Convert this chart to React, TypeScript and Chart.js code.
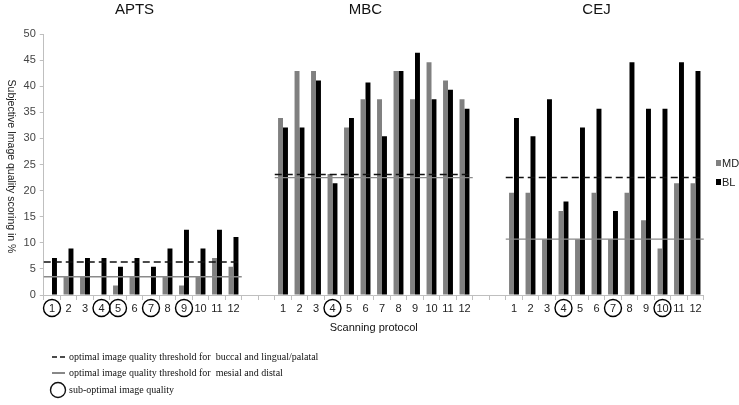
import React, { useEffect, useRef } from 'react';
import { Chart, registerables } from 'chart.js';

Chart.register(...registerables);

const groups = ['APTS', 'MBC', 'CEJ'];
const protocols = ['1', '2', '3', '4', '5', '6', '7', '8', '9', '10', '11', '12'];
const gapSlots = 2;

const aptsMD = [0, 3.6, 3.6, 0, 1.8, 3.6, 0, 3.6, 1.8, 3.6, 7.1, 5.4];
const aptsBL = [7.1, 8.9, 7.1, 7.1, 5.4, 7.1, 5.4, 8.9, 12.5, 8.9, 12.5, 11.1];
const mbcMD = [33.9, 42.9, 42.9, 23.2, 32.1, 37.5, 37.5, 42.9, 37.5, 44.6, 41.1, 37.5];
const mbcBL = [32.1, 32.1, 41.1, 21.4, 33.9, 40.7, 30.4, 42.9, 46.4, 37.5, 39.3, 35.7];
const cejMD = [19.6, 19.6, 10.7, 16.1, 10.7, 19.6, 10.7, 19.6, 14.3, 8.9, 21.4, 21.4];
const cejBL = [33.9, 30.4, 37.5, 17.9, 32.1, 35.7, 16.1, 44.6, 35.7, 35.7, 44.6, 42.9];

const thresholdBL = [6.3, 23.1, 22.5];
const thresholdMD = [3.5, 22.5, 10.7];
const circledProtocols = [[1, 4, 5, 7, 9], [4], [4, 7, 10]];

const legendLines = [
  'optimal image quality threshold for  buccal and lingual/palatal',
  'optimal image quality threshold for  mesial and distal',
  'sub-optimal image quality',
];

const mdGroups = [aptsMD, mbcMD, cejMD];
const blGroups = [aptsBL, mbcBL, cejBL];

function buildLabels(): string[] {
  const out: string[] = [];
  groups.forEach((_, g) => {
    protocols.forEach((p) => out.push(p));
    if (g < groups.length - 1) for (let i = 0; i < gapSlots; i++) out.push('');
  });
  return out;
}

function buildSeries(src: number[][]): (number | null)[] {
  const out: (number | null)[] = [];
  src.forEach((arr, g) => {
    arr.forEach((v) => out.push(v));
    if (g < src.length - 1) for (let i = 0; i < gapSlots; i++) out.push(null);
  });
  return out;
}

const groupStart = (g: number) => g * (protocols.length + gapSlots);

const SANS = '"Liberation Sans", Arial, sans-serif';
const SERIF = '"Liberation Serif", "Times New Roman", serif';

const overlayPlugin = {
  id: 'overlay',
  afterDraw(chart: any) {
    const { ctx, chartArea } = chart;
    const xs = chart.scales.x;
    const ys = chart.scales.y;
    const step = xs.getPixelForValue(1) - xs.getPixelForValue(0);
    const half = step / 2;
    ctx.save();

    // threshold lines
    groups.forEach((_, g) => {
      const s = groupStart(g);
      const x1 = xs.getPixelForValue(s) - half;
      const x2 = xs.getPixelForValue(s + protocols.length - 1) + half;
      const yMD = ys.getPixelForValue(thresholdMD[g]);
      ctx.beginPath();
      ctx.setLineDash([]);
      ctx.strokeStyle = '#8a8a8a';
      ctx.lineWidth = 1.3;
      ctx.moveTo(x1, yMD);
      ctx.lineTo(x2, yMD);
      ctx.stroke();
      const yBL = ys.getPixelForValue(thresholdBL[g]);
      ctx.beginPath();
      ctx.setLineDash([7, 4]);
      ctx.strokeStyle = '#111';
      ctx.lineWidth = 1.5;
      ctx.moveTo(x1, yBL);
      ctx.lineTo(x2, yBL);
      ctx.stroke();
    });
    ctx.setLineDash([]);

    // circles around sub-optimal protocols
    ctx.strokeStyle = '#000';
    ctx.lineWidth = 1.4;
    circledProtocols.forEach((list, g) => {
      list.forEach((p) => {
        const x = xs.getPixelForValue(groupStart(g) + p - 1);
        ctx.beginPath();
        ctx.arc(x, chartArea.bottom + 13, 8.5, 0, Math.PI * 2);
        ctx.stroke();
      });
    });

    // group titles
    ctx.fillStyle = '#111';
    ctx.font = `15px ${SANS}`;
    ctx.textAlign = 'center';
    ctx.textBaseline = 'middle';
    groups.forEach((name, g) => {
      const x = xs.getPixelForValue(groupStart(g)) + 5 * step;
      ctx.fillText(name, x, 10);
    });

    // y title (reads top to bottom)
    ctx.save();
    ctx.font = `10.5px ${SANS}`;
    ctx.fillStyle = '#222';
    ctx.translate(11, (chartArea.top + chartArea.bottom) / 2 + 2);
    ctx.rotate(Math.PI / 2);
    ctx.fillText('Subjective Image quality scoring in %', 0, 0);
    ctx.restore();

    // x title
    ctx.font = `11px ${SANS}`;
    ctx.fillStyle = '#111';
    ctx.fillText('Scanning protocol', (chartArea.left + chartArea.right) / 2, 328);

    // series legend (right)
    const lx = 716;
    ctx.textAlign = 'left';
    ctx.font = `11px ${SANS}`;
    ctx.fillStyle = '#808080';
    ctx.fillRect(lx, 160, 5, 6);
    ctx.fillStyle = '#222';
    ctx.fillText('MD', lx + 6, 163.5);
    ctx.fillStyle = '#000';
    ctx.fillRect(lx, 179, 5, 6);
    ctx.fillStyle = '#222';
    ctx.fillText('BL', lx + 6, 182.5);

    // bottom legend
    ctx.font = `10px ${SERIF}`;
    ctx.fillStyle = '#111';
    ctx.strokeStyle = '#111';
    const rows = [357, 373, 390];
    ctx.beginPath();
    ctx.setLineDash([5, 3]);
    ctx.lineWidth = 1.3;
    ctx.moveTo(52, rows[0]);
    ctx.lineTo(65, rows[0]);
    ctx.stroke();
    ctx.setLineDash([]);
    ctx.beginPath();
    ctx.lineWidth = 1;
    ctx.moveTo(52, rows[1]);
    ctx.lineTo(65, rows[1]);
    ctx.stroke();
    ctx.beginPath();
    ctx.lineWidth = 1.4;
    ctx.arc(58, rows[2], 7.5, 0, Math.PI * 2);
    ctx.stroke();
    legendLines.forEach((t, i) => ctx.fillText(t, 69, rows[i]));

    ctx.restore();
  },
};

export default function App() {
  const ref = useRef<HTMLCanvasElement | null>(null);

  useEffect(() => {
    if (!ref.current) return;
    const chart = new Chart(ref.current, {
      type: 'bar',
      data: {
        labels: buildLabels(),
        datasets: [
          {
            label: 'MD',
            data: buildSeries(mdGroups),
            backgroundColor: '#808080',
            categoryPercentage: 0.6,
            barPercentage: 1,
          },
          {
            label: 'BL',
            data: buildSeries(blGroups),
            backgroundColor: '#000000',
            categoryPercentage: 0.6,
            barPercentage: 1,
          },
        ],
      },
      options: {
        animation: false,
        responsive: true,
        maintainAspectRatio: false,
        layout: { padding: { top: 34, left: 0, right: 35.25, bottom: 80 } },
        plugins: { legend: { display: false }, tooltip: { enabled: false } },
        scales: {
          x: {
            type: 'category',
            grid: { display: true, drawOnChartArea: false, tickLength: 5, color: '#bfbfbf', offset: true },
            border: { color: '#bfbfbf' },
            ticks: {
              autoSkip: false,
              maxRotation: 0,
              minRotation: 0,
              padding: 2,
              color: '#222',
              font: { size: 11, family: SANS },
            },
            afterFit: (s: any) => {
              s.height = 30;
            },
          },
          y: {
            min: 0,
            max: 50,
            grid: { display: true, drawOnChartArea: false, tickLength: 4, color: '#bfbfbf' },
            border: { color: '#bfbfbf' },
            ticks: { stepSize: 5, padding: 4, color: '#444', font: { size: 11, family: SANS } },
            afterFit: (s: any) => {
              s.width = 43.75;
            },
          },
        },
      },
      plugins: [overlayPlugin],
    });
    return () => chart.destroy();
  }, []);

  return (
    <div style={{ position: 'fixed', left: 0, top: 0, width: 739, height: 405, background: '#fff' }}>
      <canvas ref={ref} />
    </div>
  );
}
